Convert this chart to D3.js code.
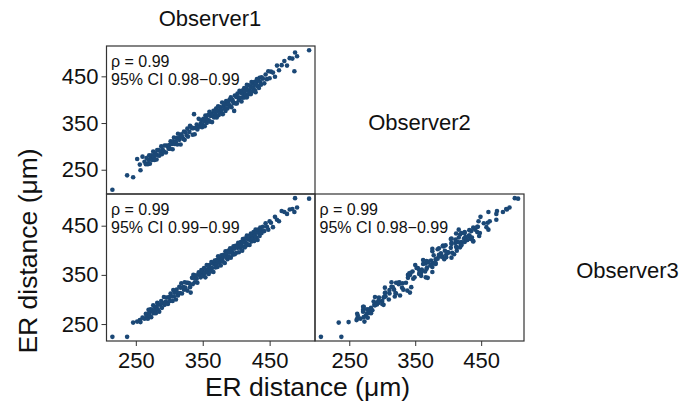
<!DOCTYPE html>
<html>
<head>
<meta charset="utf-8">
<script src="https://cdn.jsdelivr.net/npm/d3@7"></script>
<style>
  body { margin: 0; background: #fff; }
  figure { margin: 0; }
  svg text { font-family: 'Liberation Sans', Arial, sans-serif; fill: #111; }
</style>
</head>
<body>
<figure></figure>
<script>
// ER distance (µm) measured by three observers, one entry per sample
const obs1 = [
  215, 237, 246, 252, 256, 257, 260, 263, 265, 266, 268, 269, 270, 271, 272, 273, 274, 275, 276, 277,
  278, 279, 280, 281, 282, 283, 284, 285, 287, 288, 289, 290, 292, 293, 295, 296, 298, 299,
  300, 301, 302, 304, 305, 306, 307, 308, 310, 311, 312, 313, 315, 316, 317, 318, 319, 321, 322, 323,
  324, 326, 327, 328, 330, 331, 332, 334, 335, 336, 337, 338, 340, 341, 342, 344, 345, 347, 348, 349,
  350, 351, 352, 353, 354, 355, 356, 357, 358, 359, 360, 361, 362, 363, 364, 365, 366, 367, 368, 369,
  370, 371, 372, 373, 374, 375, 376, 377, 378, 379, 380, 381, 382, 383, 384, 385, 386, 387, 388, 389,
  390, 391, 392, 393, 394, 395, 396, 397, 398, 399,
  400, 401, 402, 403, 404, 405, 406, 407, 408, 409, 410, 410, 411, 412, 413, 413, 414, 415, 416, 416,
  417, 418, 419, 420, 420, 421, 422, 423, 424, 424, 425, 426, 427, 428, 428, 429, 430, 431, 432, 433,
  434, 435, 436, 437, 438,
  440, 442, 444, 446, 448, 450, 452, 455, 458, 461, 464, 468, 472, 476, 480, 484, 487, 488, 491, 509
]
const obs2 = [
  207, 238, 234, 273, 261, 249, 278, 267, 262, 275, 262, 271, 281, 263, 277, 272, 281, 271, 289, 277,
  271, 285, 283, 272, 292, 281, 292, 280, 288, 300, 283, 294, 289, 302, 287, 302, 300, 295,
  303, 295, 311, 305, 294, 311, 319, 305, 310, 318, 304, 327, 314, 320, 304, 326, 321, 316, 332, 314,
  330, 324, 338, 321, 331, 344, 342, 339, 325, 339, 369, 326, 340, 347, 336, 359, 342, 349, 356, 341,
  346, 359, 354, 343, 366, 360, 350, 357, 367, 356, 374, 353, 365, 370, 352, 366, 376, 362, 374, 368,
  381, 362, 376, 386, 367, 377, 384, 373, 378, 394, 369, 386, 391, 381, 376, 397, 389, 381, 395, 390,
  400, 386, 405, 384, 400, 397, 393, 376, 409, 392,
  406, 392, 413, 405, 399, 419, 404, 415, 396, 413, 420, 404, 412, 425, 405, 418, 411, 424, 405, 432,
  420, 411, 431, 420, 416, 428, 412, 438, 426, 418, 434, 425, 438, 420, 432, 416, 436, 444, 429, 441,
  425, 447, 438, 432, 448,
  445, 435, 454, 444, 461, 446, 460, 458, 449, 473, 463, 474, 483, 473, 489, 488, 461, 501, 493, 506
]
const obs3 = [
  224, 224, 253, 255, 258, 254, 263, 261, 271, 267, 261, 279, 273, 267, 280, 264, 279, 275, 288, 272,
  285, 278, 272, 285, 293, 280, 290, 275, 289, 297, 283, 293, 305, 289, 296, 304, 291, 304,
  305, 297, 312, 306, 297, 319, 306, 314, 300, 320, 313, 308, 326, 313, 324, 333, 312, 325, 320, 335,
  324, 334, 318, 334, 333, 325, 314, 344, 331, 350, 344, 335, 349, 342, 334, 355, 350, 345, 360, 353,
  357, 348, 364, 354, 345, 361, 370, 355, 362, 352, 370, 364, 357, 376, 364, 373, 356, 372, 379, 365,
  372, 380, 366, 388, 378, 374, 383, 369, 390, 382, 377, 391, 388, 374, 398, 386, 394, 382, 399, 387,
  395, 404, 385, 402, 396, 391, 408, 403, 392, 409,
  395, 409, 405, 415, 396, 411, 405, 417, 410, 399, 417, 423, 407, 417, 424, 406, 415, 424, 413, 430,
  411, 422, 429, 411, 426, 421, 434, 418, 427, 432, 423, 437, 419, 435, 430, 442, 426, 437, 421, 442,
  435, 429, 446, 441, 435,
  448, 439, 455, 448, 442, 459, 456, 447, 468, 462, 459, 480, 478, 474, 483, 484, 478, 506, 487, 505
]

const observerNames = ['Observer1', 'Observer2', 'Observer3']
const tickValues = [250, 350, 450]
const rhoValues = ['0.99', '0.99', '0.99']
const ciValues = ['0.98\u22120.99', '0.99\u22120.99', '0.98\u22120.99']
const axisTitle = 'ER distance (\u03bcm)'

const width = 697
const height = 411
const pointColor = '#1b4876'

const svg = d3.select('figure').append('svg')
  .attr('width', width)
  .attr('height', height)

// panel grid (lower triangle of a pairs plot)
const cols = [[106.5, 315], [315, 524]]
const rows = [[46, 194], [194, 341]]

// each observer gets its own range, padded a little
const scaleFor = (values, range) => {
  const [lo, hi] = d3.extent(values)
  const pad = (hi - lo) * 0.03
  return d3.scaleLinear().domain([lo - pad, hi + pad]).range(range)
}

const xScales = [scaleFor(obs1, cols[0]), scaleFor(obs2, cols[1])]
const yScales = [scaleFor(obs2, [rows[0][1], rows[0][0]]), scaleFor(obs3, [rows[1][1], rows[1][0]])]

const panels = [
  { xs: obs1, ys: obs2, col: 0, row: 0, rho: rhoValues[0], ci: ciValues[0] },
  { xs: obs1, ys: obs3, col: 0, row: 1, rho: rhoValues[1], ci: ciValues[1] },
  { xs: obs2, ys: obs3, col: 1, row: 1, rho: rhoValues[2], ci: ciValues[2] }
]

panels.forEach((p) => {
  const x = xScales[p.col]
  const y = yScales[p.row]
  const g = svg.append('g')

  g.append('rect')
    .attr('x', cols[p.col][0])
    .attr('y', rows[p.row][0])
    .attr('width', cols[p.col][1] - cols[p.col][0])
    .attr('height', rows[p.row][1] - rows[p.row][0])
    .attr('fill', 'none')
    .attr('stroke', '#333')
    .attr('stroke-width', 1.2)

  g.selectAll('circle')
    .data(d3.zip(p.xs, p.ys))
    .join('circle')
      .attr('cx', d => x(d[0]))
      .attr('cy', d => y(d[1]))
      .attr('r', 2.3)
      .attr('fill', pointColor)

  // correlation and its interval, two separate lines
  const tx = cols[p.col][0] + 4.5
  g.append('text')
    .attr('x', tx)
    .attr('y', rows[p.row][0] + 21)
    .style('font-size', '16px')
    .text(`\u03c1 = ${p.rho}`)
  g.append('text')
    .attr('x', tx)
    .attr('y', rows[p.row][0] + 39)
    .style('font-size', '16px')
    .text(`95% CI ${p.ci}`)
})

// y axes on the left column
rows.forEach((r, i) => {
  const ax = svg.append('g')
    .attr('transform', `translate(${cols[0][0]},0)`)
    .call(d3.axisLeft(yScales[i]).tickValues(tickValues).tickSize(5).tickPadding(3))
  ax.select('.domain').remove()
  ax.selectAll('line').attr('stroke', '#333')
  ax.selectAll('text').style('font-size', '22px').attr('fill', '#111')
  ax.attr('font-family', null)
})

// x axes along the bottom row
cols.forEach((c, i) => {
  const ax = svg.append('g')
    .attr('transform', `translate(0,${rows[1][1]})`)
    .call(d3.axisBottom(xScales[i]).tickValues(tickValues).tickSize(5).tickPadding(6))
  ax.select('.domain').remove()
  ax.selectAll('line').attr('stroke', '#333')
  ax.selectAll('text').style('font-size', '22px').attr('fill', '#111')
  ax.attr('font-family', null)
})

// observer names on the diagonal
const namePos = [[210, 26], [419.5, 130], [627.5, 278]]
svg.selectAll('.obs-name')
  .data(observerNames)
  .join('text')
    .attr('class', 'obs-name')
    .attr('x', (d, i) => namePos[i][0])
    .attr('y', (d, i) => namePos[i][1])
    .attr('text-anchor', 'middle')
    .style('font-size', '22px')
    .text(d => d)

svg.append('text')
  .attr('x', 307.5)
  .attr('y', 396)
  .attr('text-anchor', 'middle')
  .style('font-size', '26.5px')
  .text(axisTitle)

svg.append('text')
  .attr('transform', 'translate(37,251) rotate(-90)')
  .attr('text-anchor', 'middle')
  .style('font-size', '26.5px')
  .text(axisTitle)
</script>
</body>
</html>
